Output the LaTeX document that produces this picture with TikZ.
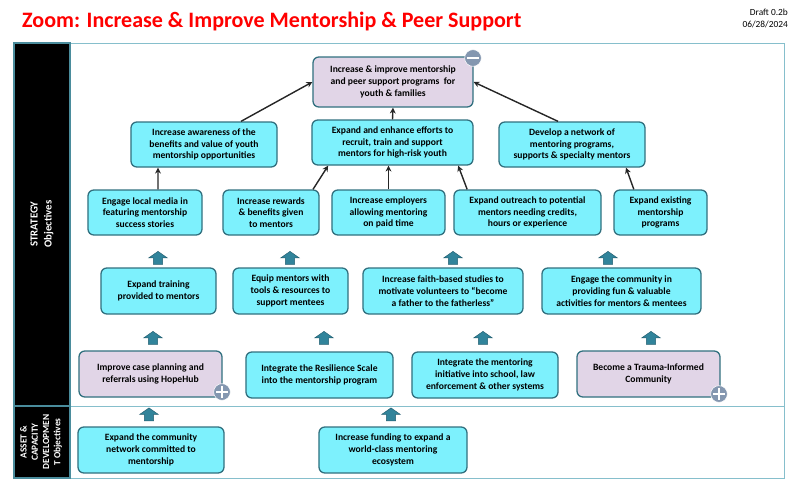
\documentclass[tikz,border=0pt]{standalone}
\usepackage{fontspec}
\setmainfont{Carlito}
\usepackage{xcolor}
\usepackage{tikz}
\usetikzlibrary{arrows.meta, shapes.arrows, positioning, calc}

\definecolor{aquafill}{HTML}{7DF1FD}
\definecolor{lavfill}{HTML}{E1D5E7}
\definecolor{boxedge}{HTML}{31707F}
\definecolor{blockteal}{HTML}{31849B}
\definecolor{blockedge}{HTML}{245F70}
\definecolor{framecol}{HTML}{86BFCC}
\definecolor{sideedge}{HTML}{4A8C9C}
\definecolor{badgefill}{HTML}{8497B0}
\definecolor{arrowgray}{HTML}{262626}
\definecolor{titlered}{HTML}{FF0000}

\tikzset{
  cbox/.style={rectangle,rounded corners=5pt,draw=boxedge,line width=1.1pt,fill=aquafill,align=center,minimum height=1.35cm,inner sep=2pt,font=\bfseries\fontsize{8.2}{10}\selectfont},
  lbox/.style={cbox,fill=lavfill},
  arr/.style={-{Stealth[length=5pt,width=5pt]},line width=1.2pt,draw=arrowgray},
  uparr/.style={single arrow,shape border rotate=90,fill=blockteal,draw=blockedge,line width=0.4pt,minimum height=0.39cm,minimum width=0.56cm,single arrow head extend=0.14cm,single arrow tip angle=110,inner sep=0.13cm},
  badge/.style={circle,fill=badgefill,draw=white,line width=0.4pt,minimum size=0.5cm,inner sep=0pt},
  sidebar/.style={fill=black,draw=sideedge,line width=1.2pt},
  sidetext/.style={text=white,rotate=90,align=center}
}

\begin{document}
\begin{tikzpicture}[x=0.03cm, y=-0.03cm]
  \useasboundingbox (0,0) rectangle (800,500);

  % title and draft note
  \node[anchor=west,text=titlered,font=\bfseries\fontsize{18.8}{22}\selectfont] (title) at (18,22)
    {Zoom: Increase \& Improve Mentorship \& Peer Support};
  \node[anchor=east,align=right,font=\fontsize{8}{10.3}\selectfont] (draft) at (792,18)
    {Draft 0.2b\\06/28/2024};

  % frame and side labels
  \draw[framecol,line width=0.8pt] (14,43) rectangle (784,478);
  \draw[framecol,line width=0.8pt] (14,406) -- (784,406);
  \draw[sidebar] (14,43) rectangle (70,406);
  \draw[sidebar] (14,406) rectangle (70,478);
  \node[sidetext,font=\bfseries\fontsize{9.2}{12}\selectfont] (strat) at (42,224)
    {STRATEGY\\Objectives};
  \node[sidetext,font=\bfseries\fontsize{8}{9.6}\selectfont] (asset) at (41,442)
    {ASSET \&\\CAPACITY\\DEVELOPMEN\\T Objectives};

  % goal
  \node[lbox,minimum width=4.8cm,minimum height=1.5cm] (goal) at (393,82)
    {Increase \& improve mentorship\\and peer support programs~ for\\youth \& families};
  \node[badge] (minus) at (473,58) {};
  \draw[white,line width=1.6pt] ([xshift=2.5pt]minus.west) -- ([xshift=-2.5pt]minus.east);

  % second row
  \node[cbox,minimum width=4.38cm] (aware) at (204,144.5)
    {Increase awareness of the\\benefits and value of youth\\mentorship opportunities};
  \node[cbox,minimum width=4.83cm] (recruit) at (392.5,142.5)
    {Expand and enhance efforts to\\recruit, train and support\\mentors for high-risk youth};
  \node[cbox,minimum width=4.38cm] (network) at (572,144.5)
    {Develop a network of\\mentoring programs,\\supports \& specialty mentors};

  % third row
  \node[cbox,minimum width=3.42cm] (media) at (145,212.5)
    {Engage local media in\\featuring mentorship\\success stories};
  \node[cbox,minimum width=2.88cm] (reward) at (271,212.5)
    {Increase rewards\\\& benefits given\\to mentors};
  \node[cbox,minimum width=3.39cm] (employ) at (388.5,212.5)
    {Increase employers\\allowing mentoring\\on paid time};
  \node[cbox,minimum width=4.41cm] (outreach) at (527.5,212.5)
    {Expand outreach to potential\\mentors needing credits,\\hours or experience};
  \node[cbox,minimum width=2.79cm] (existing) at (660.5,212.5)
    {Expand existing\\mentorship\\programs};

  \draw[arr] ([xshift=1.11cm]aware.north) -- (goal.west);
  \draw[arr] (recruit.north) -- (goal.south);
  \draw[arr] ([xshift=-0.42cm]network.north) -- (goal.east);
  \draw[arr] ([xshift=0.39cm]media.north) -- ([xshift=-1.38cm]aware.south);
  \draw[arr] ([xshift=1.26cm]reward.north) -- ([xshift=-1.93cm]recruit.south);
  \draw[arr] (employ.north) -- (employ.north |- recruit.south);
  \draw[arr] ([xshift=-1.81cm]outreach.north) -- ([xshift=1.97cm]recruit.south);
  \draw[arr] ([xshift=-0.8cm]existing.north) -- ([xshift=1.62cm]network.south);

  % fourth row
  \node[uparr] (up1) at (158,259.5) {};
  \node[uparr] (up2) at (290,259.5) {};
  \node[uparr] (up3) at (453,259.5) {};
  \node[uparr] (up4) at (608,259.5) {};
  \node[cbox,minimum width=3.45cm,minimum height=1.38cm] (training) at (158.5,291)
    {Expand training\\provided to mentors};
  \node[cbox,minimum width=3.45cm,minimum height=1.38cm] (equip) at (290.5,291)
    {Equip mentors with\\tools \& resources to\\support mentees};
  \node[cbox,minimum width=4.8cm,minimum height=1.38cm] (faith) at (443,291)
    {Increase faith-based studies to\\motivate volunteers to “become\\a father to the fatherless”};
  \node[cbox,minimum width=4.77cm,minimum height=1.38cm] (engage) at (621.5,291)
    {Engage the community in\\providing fun \& valuable\\activities for mentors \& mentees};

  % fifth row
  \node[uparr] (up5) at (153,339.5) {};
  \node[uparr] (up6) at (324,339.5) {};
  \node[uparr] (up7) at (483,339.5) {};
  \node[uparr] (up8) at (651,339.5) {};
  \node[lbox,minimum width=4.29cm,minimum height=1.38cm] (hopehub) at (150.5,374)
    {Improve case planning and\\referrals using HopeHub};
  \node[cbox,minimum width=4.41cm,minimum height=1.38cm] (resil) at (319.5,375)
    {Integrate the Resilience Scale\\into the mentorship program};
  \node[cbox,minimum width=4.38cm,minimum height=1.38cm] (school) at (485,375)
    {Integrate the mentoring\\initiative into school, law\\enforcement \& other systems};
  \node[lbox,minimum width=4.29cm,minimum height=1.38cm] (trauma) at (648.5,374)
    {Become a Trauma-Informed\\Community};
  \node[badge] (plusa) at (222,392) {};
  \draw[white,line width=1.6pt] ([xshift=2.5pt]plusa.west) -- ([xshift=-2.5pt]plusa.east);
  \draw[white,line width=1.6pt] ([yshift=-2.5pt]plusa.north) -- ([yshift=2.5pt]plusa.south);
  \node[badge] (plusb) at (719,394) {};
  \draw[white,line width=1.6pt] ([xshift=2.5pt]plusb.west) -- ([xshift=-2.5pt]plusb.east);
  \draw[white,line width=1.6pt] ([yshift=-2.5pt]plusb.north) -- ([yshift=2.5pt]plusb.south);

  % asset & capacity row
  \node[uparr] (up9) at (149,416) {};
  \node[uparr] (up10) at (391,416) {};
  \node[cbox,minimum width=4.38cm,minimum height=1.38cm] (commnet) at (151,450)
    {Expand the community\\network committed to\\mentorship};
  \node[cbox,minimum width=4.44cm,minimum height=1.38cm] (funding) at (393,450)
    {Increase funding to expand a\\world-class mentoring\\ecosystem};
\end{tikzpicture}
\end{document}
